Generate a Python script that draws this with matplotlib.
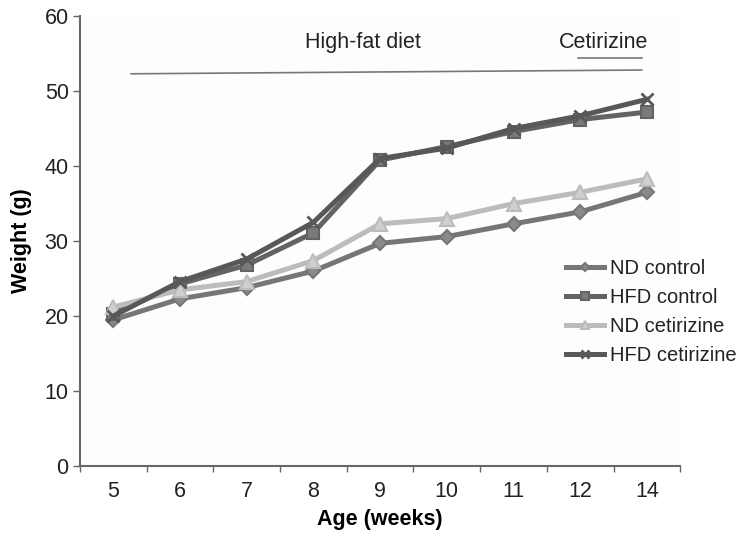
import matplotlib
matplotlib.use("Agg")
import matplotlib.pyplot as plt
import numpy as np

plt.rcParams['font.family'] = ['Liberation Sans', 'DejaVu Sans']

weeks = ["5", "6", "7", "8", "9", "10", "11", "12", "14"]
nd_control = [19.5, 22.3, 23.8, 26.0, 29.7, 30.6, 32.3, 33.9, 36.5]
hfd_control = [20.3, 24.3, 26.8, 31.1, 40.8, 42.6, 44.6, 46.2, 47.2]
nd_cetirizine = [21.2, 23.5, 24.6, 27.4, 32.3, 33.0, 35.0, 36.5, 38.3]
hfd_cetirizine = [20.0, 24.6, 27.6, 32.5, 41.0, 42.4, 45.0, 46.7, 48.9]
labels = ["ND control", "HFD control", "ND cetirizine", "HFD cetirizine"]

FS = 15.5

fig = plt.figure(figsize=(7.46, 5.34), dpi=100)
ax = fig.add_axes([0.107, 0.127, 0.805, 0.843])
ax.set_facecolor('#fdfdfd')

x = np.arange(len(weeks))
styles = [
    (nd_control, '#767676', 'D', '#8a8a8a', 7),
    (hfd_control, '#636363', 's', '#7a7a7a', 9),
    (nd_cetirizine, '#bcbcbc', '^', '#cfcfcf', 10),
    (hfd_cetirizine, '#585858', 'x', '#585858', 9),
]
for (vals, col, mk, fc, ms), lab in zip(styles, labels):
    ax.plot(x, vals, color=col, lw=3.6, marker=mk, ms=ms, mfc=fc,
            mec=col, mew=1.5 if mk != 'x' else 2.0, label=lab, solid_joinstyle='round')

ax.set_xlim(-0.5, len(weeks) - 0.5)
ax.set_ylim(0, 60)
ax.set_yticks([0, 10, 20, 30, 40, 50, 60])
ax.set_xticks(x)
ax.set_xticklabels(weeks)
ax.set_xticks(np.arange(-0.5, len(weeks)), minor=True)
ax.tick_params(axis='x', which='major', length=0, labelsize=FS, pad=11)
ax.tick_params(axis='x', which='minor', length=4, width=1, color='#666666', direction='out')
ax.tick_params(axis='y', length=5, width=1, color='#666666', labelsize=FS, direction='out', pad=3)
for s in ['top', 'right']:
    ax.spines[s].set_visible(False)
for s in ['left', 'bottom']:
    ax.spines[s].set_color('#666666')
    ax.spines[s].set_linewidth(1.5)
ax.tick_params(axis='both', labelcolor='#222222')

ax.set_xlabel("Age (weeks)", fontsize=FS, fontweight='bold', labelpad=5)
ax.set_ylabel("Weight (g)", fontsize=FS, fontweight='bold', labelpad=9)

# annotations
ax.plot([0.27, 7.92], [52.3, 52.8], color='#777777', lw=1.2, clip_on=False)
ax.plot([6.97, 7.92], [54.4, 54.4], color='#777777', lw=1.2, clip_on=False)
ax.text(3.75, 56.5, "High-fat diet", ha='center', va='center', fontsize=FS, color='#222222')
ax.text(7.35, 56.5, "Cetirizine", ha='center', va='center', fontsize=FS, color='#222222')

leg = ax.legend(loc='upper left', bbox_to_anchor=(566 / 746, 1 - 259 / 534),
                bbox_transform=fig.transFigure, frameon=False, fontsize=14.5,
                handlelength=1.9, handletextpad=0.3, labelspacing=0.5,
                markerscale=0.6, borderaxespad=0, borderpad=0)
for t in leg.get_texts():
    t.set_color('#222222')

fig.savefig("out.png", dpi=100)
